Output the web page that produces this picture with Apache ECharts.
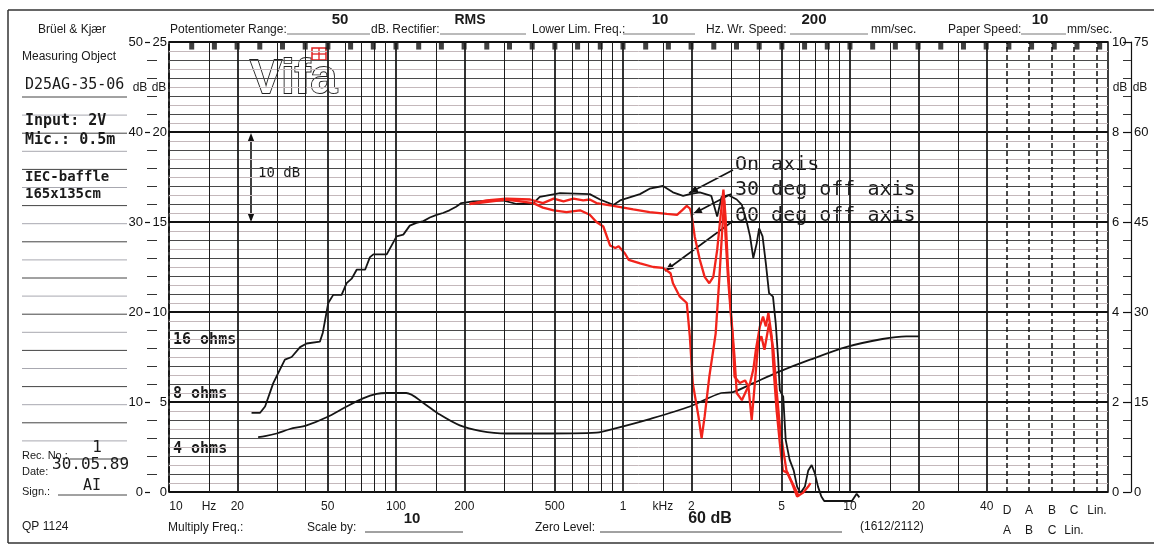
<!DOCTYPE html>
<html>
<head>
<meta charset="utf-8" />
<title>Vifa D25AG-35-06</title>
<script src="https://cdn.jsdelivr.net/npm/echarts@6.0.0/dist/echarts.min.js"></script>
<style>html,body{margin:0;padding:0;background:#fff;}</style>
</head>
<body>
<div id="main" style="width:1154px;height:549px;"></div>
<script type="text/javascript">
// response curves, [Hz, dB] (0..50 dB scale)
const onAxis = [[23.1,8.8],[25.2,8.8],[26.5,9.5],[28.8,12.1],[30.8,13.6],[32.4,14.7],[34.7,15.0],[37.8,16.1],[40.4,16.5],[46.2,16.7],[47.6,17.7],[50.3,21.0],[52.9,21.9],[57.6,21.9],[60.6,23.2],[63.8,23.7],[67.1,24.7],[73.1,24.7],[76.8,26.1],[79.5,26.4],[91,26.4],[95.7,27.4],[100.6,28.4],[107.7,28.6],[115,29.6],[123,29.9],[132,30.1],[141,30.5],[151,30.8],[161,31.0],[172,31.3],[184,31.7],[194,32.1],[219,32.3],[296,32.4],[340,32.0],[388,32.0],[403,32.1],[430,32.8],[528,33.2],[714,33.1],[792,32.5],[907,31.9],[971,32.4],[1188,33.1],[1310,33.7],[1500,34.0],[1660,33.3],[1840,32.9],[1970,33.1],[2180,33.3],[2450,32.9],[2600,30.6],[2720,32.8],[2910,33.0],[3170,32.5],[3340,31.9],[3510,30.0],[3630,28.4],[3750,26.0],[3880,27.6],[3980,29.3],[4120,28.4],[4260,25.4],[4400,22.1],[4580,21.7],[4710,18.7],[4820,15.0],[4910,11.3],[5080,10.6],[5210,5.8],[5420,3.6],[5650,2.4],[5850,0.6],[6050,-0.1],[6330,0.6],[6550,2.4],[6780,3.0],[7000,2.1],[7230,0.6],[7480,-0.5],[7700,-1.0],[10200,-1.0],[10700,-0.2],[11000,-0.6]];

const deg30 = [[211,32.0],[250,32.4],[306,32.6],[390,32.5],[444,32.1],[495,32.6],[547,32.3],[605,32.6],[668,32.4],[714,32.5],[764,32.1],[907,31.8],[1110,31.4],[1310,31.1],[1560,30.9],[1730,30.8],[1820,31.3],[1910,31.8],[1970,31.5],[2000,31.0],[2070,28.4],[2180,25.8],[2290,23.9],[2400,23.2],[2500,23.9],[2600,26.9],[2690,30.6],[2770,33.6],[2830,30.6],[2900,25.0],[3000,19.5],[3100,15.0],[3170,11.0],[3340,10.2],[3500,11.3],[3630,12.1],[3750,13.6],[3850,15.8],[4010,18.4],[4140,19.5],[4260,18.4],[4370,19.9],[4520,17.3],[4600,13.9],[4750,9.1],[4910,5.4],[5060,2.4],[5300,2.1],[5550,1.0],[5850,-0.5],[6200,-0.1],[6550,0.6],[6700,1.0]];

const deg60 = [[211,32.0],[306,32.5],[403,32.1],[444,31.6],[495,31.3],[564,31.1],[647,31.3],[714,30.8],[764,30.0],[819,29.5],[877,27.4],[925,27.1],[957,27.3],[1020,26.5],[1060,25.8],[1190,25.4],[1360,25.0],[1500,24.9],[1620,24.3],[1660,23.2],[1780,21.7],[1910,21.0],[1970,17.3],[2030,12.1],[2150,8.4],[2220,6.0],[2290,8.4],[2400,12.8],[2560,17.6],[2650,23.2],[2730,28.7],[2790,32.4],[2830,28.4],[2900,23.9],[3040,17.3],[3100,12.8],[3270,12.1],[3450,12.4],[3570,11.7],[3690,8.0],[3810,12.1],[3940,16.5],[4070,17.3],[4200,15.8],[4400,18.7],[4600,15.8],[4750,11.3],[4910,7.3],[5080,4.7],[5250,2.4],[5500,1.3],[5780,0.2],[5950,-0.5]];

const impedance = [[24.7,6.1],[26.5,6.2],[29.8,6.5],[34.1,7.0],[40.4,7.4],[49.5,8.3],[60.6,9.5],[71.6,10.4],[82.2,10.9],[91,11.0],[111,11.0],[132,9.9],[156,8.6],[191,7.4],[234,6.8],[305,6.5],[430,6.5],[764,6.6],[935,7.1],[1310,8.1],[1970,9.5],[2710,11.0],[3050,11.1],[3750,12.1],[4910,13.4],[6670,14.7],[9600,16.1],[13900,17.0],[17700,17.3],[20200,17.3]];

// paper grid: frequency lines and their labels
const gridFreqs = [15,20,30,40,50,60,70,80,90,100,150,200,300,400,500,600,700,800,900,1000,1500,2000,3000,4000,5000,6000,7000,8000,9000,10000,15000,20000,30000,40000];
const boldFreqs = [20,50,100,200,500,1000,2000,5000,10000,20000,40000];
const freqLabels = {10:'10',15:'Hz',20:'20',50:'50',100:'100',200:'200',500:'500',1000:'1',1500:'kHz',2000:'2',5000:'5',10000:'10',20000:'20',40000:'40'};
// weighting filter columns past 40 kHz
const wtPos = [49200, 61500, 77600, 97000, 122500];
const wtTop = ['D', 'A', 'B', 'C', 'Lin.'];
const wtBottom = ['A', 'B', 'C', 'Lin.', ''];

const SANS = '"Liberation Sans", Arial, sans-serif';
const MONO = '"DejaVu Sans Mono", monospace';

const myChart = echarts.init(document.getElementById('main'));

const vLines = gridFreqs.map(f => ({
    xAxis: f,
    lineStyle: { color: '#1c1c1c', width: boldFreqs.includes(f) ? 1.8 : 1, type: 'solid' },
    label: freqLabels[f] ? { show: true, formatter: freqLabels[f] } : { show: false }
}));
vLines.push({ xAxis: 10, lineStyle: { color: '#111', width: 1.6 }, label: { show: true, formatter: '10', offset: [7, 0] } });
wtPos.forEach((f, i) => {
    vLines.push({
        xAxis: f,
        lineStyle: { color: '#111', width: 1.5, type: [5, 3] },
        label: { show: true, formatter: wtTop[i] + '\n' + wtBottom[i], lineHeight: 20 }
    });
});

// recorder time marks along the top edge
const paperMarks = [];
for (let k = 1; k <= 41; k++) paperMarks.push([Math.pow(10, 1 + k / 10), 49.55]);

// ---- static paper print / annotations ----
const g = [];
const txt = (x, y, text, o = {}) => g.push({
    type: 'text', x, y, silent: true,
    style: {
        text, fill: o.color || '#1a1a1a', fontSize: o.size || 12, fontFamily: o.font || SANS,
        fontWeight: o.weight || 'normal', align: o.align || 'left', verticalAlign: 'middle'
    }
});
const ln = (x1, y1, x2, y2, c = '#222', w = 1) => g.push({
    type: 'line', silent: true, shape: { x1, y1, x2, y2 }, style: { stroke: c, lineWidth: w }
});
const head = (x1, y1, x2, y2) => {
    const a = Math.atan2(y2 - y1, x2 - x1), L = 9, W = 3.5;
    const bx = x2 - L * Math.cos(a), by = y2 - L * Math.sin(a);
    g.push({
        type: 'polygon', silent: true,
        shape: { points: [[x2, y2], [bx - W * Math.sin(a), by + W * Math.cos(a)], [bx + W * Math.sin(a), by - W * Math.cos(a)]] },
        style: { fill: '#111' }
    });
};
const arrow = (x1, y1, x2, y2) => { ln(x1, y1, x2, y2, '#111', 1.6); head(x1, y1, x2, y2); };

// frame
ln(8, 10, 1154, 10, '#333', 1.5);
ln(8, 10, 8, 543, '#333', 1.5);
ln(8, 543, 1154, 543, '#333', 1.5);

// header
txt(38, 30, 'Brüel & Kjær');
txt(170, 30, 'Potentiometer Range:'); ln(287, 34, 370, 34, '#777');
txt(340, 20, '50', { size: 15, weight: 'bold', align: 'center' });
txt(371, 30, 'dB. Rectifier:'); ln(440, 34, 526, 34, '#777');
txt(470, 20, 'RMS', { size: 14, weight: 'bold', align: 'center' });
txt(532, 30, 'Lower Lim. Freq.:'); ln(623, 34, 695, 34, '#777');
txt(660, 20, '10', { size: 15, weight: 'bold', align: 'center' });
txt(706, 30, 'Hz. Wr. Speed:'); ln(790, 34, 868, 34, '#777');
txt(814, 20, '200', { size: 15, weight: 'bold', align: 'center' });
txt(871, 30, 'mm/sec.');
txt(948, 30, 'Paper Speed:'); ln(1021, 34, 1066, 34, '#777');
txt(1040, 20, '10', { size: 15, weight: 'bold', align: 'center' });
txt(1067, 30, 'mm/sec.');

// left panel
txt(22, 57, 'Measuring Object');
for (let k = 0; k < 20; k++) {
    const y = 97 + k * 18.1;
    ln(22, y, 127, y, k % 2 ? '#a8a8b0' : '#444', 1);
}
txt(25, 85, 'D25AG-35-06', { font: MONO, size: 15 });
txt(25, 121, 'Input: 2V', { font: MONO, size: 15, weight: 'bold' });
txt(25, 140, 'Mic.: 0.5m', { font: MONO, size: 15, weight: 'bold' });
txt(25, 177, 'IEC-baffle', { font: MONO, size: 14, weight: 'bold' });
txt(25, 194, '165x135cm', { font: MONO, size: 14, weight: 'bold' });
txt(22, 456, 'Rec. No.:', { size: 11 }); ln(70, 459, 127, 459, '#444');
txt(97, 448, '1', { font: MONO, size: 16, align: 'center' });
txt(22, 472, 'Date:', { size: 11 });
txt(52, 465, '30.05.89', { font: MONO, size: 16 });
txt(22, 492, 'Sign.:', { size: 11 }); ln(58, 495, 127, 495, '#444');
txt(92, 486, 'AI', { font: MONO, size: 15, align: 'center' });
txt(22, 527, 'QP 1124');

// bottom strip
txt(168, 528, 'Multiply Freq.:');
txt(307, 528, 'Scale by:'); ln(365, 532, 463, 532, '#444');
txt(412, 519, '10', { size: 15, weight: 'bold', align: 'center' });
txt(535, 528, 'Zero Level:'); ln(600, 532, 842, 532, '#444');
txt(710, 519, '60 dB', { size: 16, weight: 'bold', align: 'center' });
txt(860, 527, '(1612/2112)');

// axis unit labels
txt(140, 88, 'dB', { align: 'center' }); txt(159, 88, 'dB', { align: 'center' });
txt(1120, 88, 'dB', { align: 'center' }); txt(1140, 88, 'dB', { align: 'center' });

// vifa logo
g.push({
    type: 'text', x: 250, y: 80, silent: true,
    style: { text: 'Vifa', fontSize: 48, fontWeight: 'bold', fontFamily: SANS, fill: '#fff', stroke: '#222', lineWidth: 1.8, verticalAlign: 'middle' }
});
g.push({ type: 'rect', silent: true, shape: { x: 312, y: 48, width: 14, height: 12 }, style: { fill: 'none', stroke: '#e02020', lineWidth: 1.5 } });
ln(319, 48, 319, 60, '#e02020', 1.3); ln(312, 54, 326, 54, '#e02020', 1.3);

// in-plot annotations
ln(251, 136, 251, 220, '#111', 1.6);
head(251, 150, 251, 133); head(251, 205, 251, 222);
txt(258, 173, '10 dB', { font: MONO, size: 14 });
txt(173, 340, '16 ohms', { font: MONO, size: 15, weight: 'bold' });
txt(173, 394, '8 ohms', { font: MONO, size: 15, weight: 'bold' });
txt(173, 449, '4 ohms', { font: MONO, size: 15, weight: 'bold' });
txt(735, 165, 'On axis', { font: MONO, size: 20 });
txt(735, 190, '30 deg off axis', { font: MONO, size: 20 });
txt(735, 216, '60 deg off axis', { font: MONO, size: 20 });
arrow(733, 170, 689, 193);
arrow(731, 194, 693, 214);
arrow(733, 221, 665, 271);

const lbl = { fontSize: 13, color: '#111', fontFamily: SANS, showMinLabel: true, showMaxLabel: true };

const option = {
    animation: false,
    backgroundColor: '#fff',
    grid: { left: 169, right: 46, top: 42, bottom: 57, show: true, borderColor: '#111', borderWidth: 1.6, outerBoundsMode: 'none' },
    xAxis: {
        type: 'log', logBase: 10, min: 10, max: 137000,
        axisLine: { show: false }, axisTick: { show: false }, axisLabel: { show: false }, splitLine: { show: false }
    },
    yAxis: [
        { // outer left 0..50, light 1 dB lines
            type: 'value', position: 'left', offset: 24, min: 0, max: 50, interval: 10,
            axisLine: { show: false },
            axisTick: { show: true, inside: true, length: 5, lineStyle: { color: '#111', width: 1.2 } },
            axisLabel: Object.assign({ margin: 2 }, lbl),
            splitLine: { show: false },
            minorTick: { show: false, splitNumber: 10 },
            minorSplitLine: { show: true, lineStyle: { color: '#c4b8bb', width: 1 } }
        },
        { // inner left 0..25, dark lines
            type: 'value', position: 'left', offset: 0, min: 0, max: 25, interval: 5,
            axisLine: { show: false }, axisTick: { show: false },
            axisLabel: Object.assign({ margin: 2 }, lbl),
            splitLine: { show: true, lineStyle: { color: '#111', width: 1.8 } },
            minorTick: { show: false, splitNumber: 5 },
            minorSplitLine: { show: true, lineStyle: { color: '#4a4a4a', width: 1 } }
        },
        { // small dashes between the left scales
            type: 'value', position: 'left', offset: 12, min: 0, max: 50, interval: 10,
            axisLine: { show: false }, axisTick: { show: false }, axisLabel: { show: false }, splitLine: { show: false },
            minorTick: { show: true, splitNumber: 5, length: 10, lineStyle: { color: '#333', width: 1 } }
        },
        { // inner right 0..10
            type: 'value', position: 'right', offset: 0, min: 0, max: 10, interval: 2,
            axisLine: { show: false }, axisTick: { show: false },
            axisLabel: Object.assign({ margin: 4 }, lbl),
            splitLine: { show: false }
        },
        { // outer right 0..75
            type: 'value', position: 'right', offset: 23, min: 0, max: 75, interval: 15,
            axisLine: { show: true, lineStyle: { color: '#111', width: 1.2 } },
            axisTick: { show: true, inside: true, length: 8, lineStyle: { color: '#111', width: 1.2 } },
            minorTick: { show: true, splitNumber: 5, length: 8, lineStyle: { color: '#333', width: 1 } },
            axisLabel: Object.assign({ margin: 3 }, lbl),
            splitLine: { show: false }
        }
    ],
    series: [
        {
            name: 'paper', type: 'line', data: [], z: 1, silent: true,
            markLine: {
                silent: true, symbol: ['none', 'none'], animation: false,
                label: { position: 'start', distance: 9, fontSize: 12, color: '#1a1a1a', fontFamily: SANS },
                data: vLines
            }
        },
        {
            name: 'marks', type: 'scatter', data: paperMarks, symbol: 'rect', symbolSize: [5, 7],
            itemStyle: { color: '#111' }, z: 2, silent: true
        },
        {
            name: 'Impedance', type: 'line', data: impedance, showSymbol: false, smooth: 0.3, clip: false, z: 3,
            lineStyle: { color: '#151515', width: 1.8 }
        },
        {
            name: 'On axis', type: 'line', data: onAxis, showSymbol: false, clip: false, z: 3,
            lineStyle: { color: '#151515', width: 1.8 }
        },
        {
            name: '60 deg off axis', type: 'line', data: deg60, showSymbol: false, clip: false, z: 4,
            lineStyle: { color: '#f2231b', width: 2.3 }
        },
        {
            name: '30 deg off axis', type: 'line', data: deg30, showSymbol: false, clip: false, z: 4,
            lineStyle: { color: '#f2231b', width: 2.3 }
        }
    ],
    graphic: { elements: g }
};
myChart.setOption(option);
</script>
</body>
</html>
